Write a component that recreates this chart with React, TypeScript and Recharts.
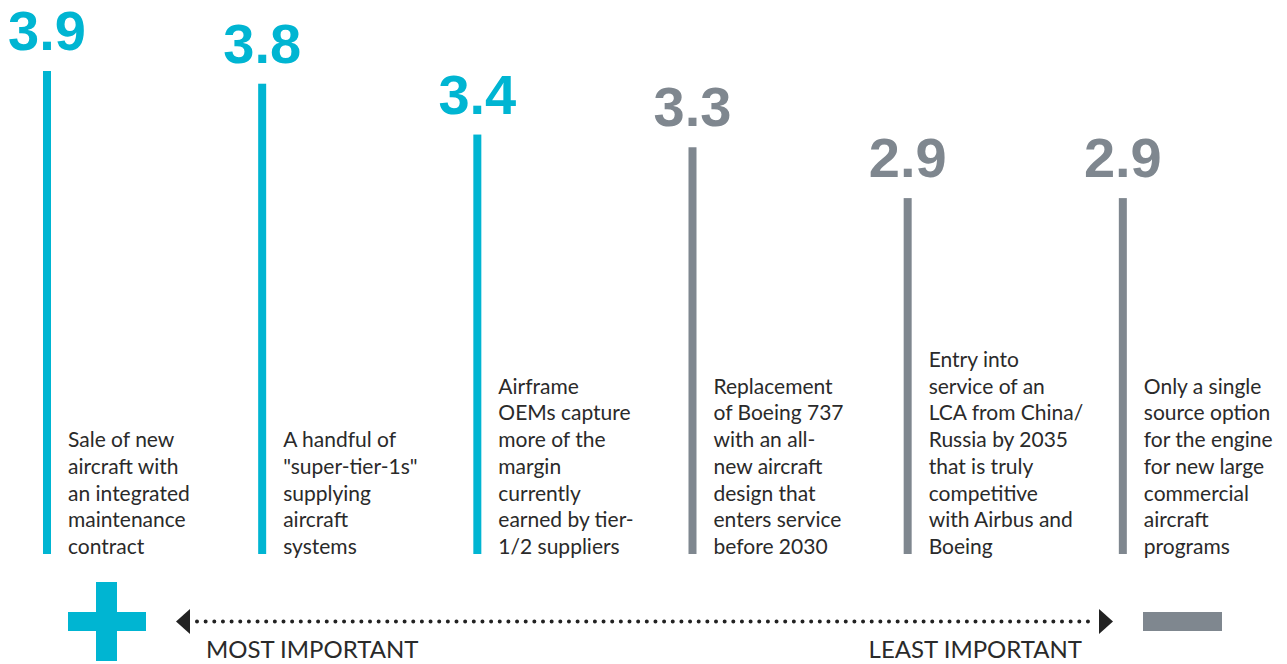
import React from "react";
import { BarChart, Bar, XAxis, YAxis } from "recharts";

const descriptions: string[][] = [
  ["Sale of new", "aircraft with", "an integrated", "maintenance", "contract"],
  ["A handful of", "\"super-tier-1s\"", "supplying", "aircraft", "systems"],
  ["Airframe", "OEMs capture", "more of the", "margin", "currently", "earned by tier-", "1/2 suppliers"],
  ["Replacement", "of Boeing 737", "with an all-", "new aircraft", "design that", "enters service", "before 2030"],
  ["Entry into", "service of an", "LCA from China/", "Russia by 2035", "that is truly", "competitive", "with Airbus and", "Boeing"],
  ["Only a single", "source option", "for the engine", "for new large", "commercial", "aircraft", "programs"],
];
const scores = [3.9, 3.8, 3.4, 3.3, 2.9, 2.9];
const tiers = ["high", "high", "high", "low", "low", "low"];
const scaleLabels = ["MOST IMPORTANT", "LEAST IMPORTANT"];

const CYAN = "#00B5D2";
const GREY = "#7F878F";
const TEXT = "#2a2a2a";

const data = scores.map((s, i) => ({
  name: descriptions[i].join(" "),
  score: s,
  tier: tiers[i],
  lines: descriptions[i],
}));

const BarShape = (props: any) => {
  const { x, y, width, height, payload } = props;
  const color = payload.tier === "high" ? CYAN : GREY;
  const cx = x + width / 2;
  const bottom = y + height;
  const lines: string[] = payload.lines;
  const lh = 26.75;
  return (
    <g>
      <rect x={x} y={y} width={width} height={height} fill={color} />
      <text
        x={cx}
        y={y - 21}
        textAnchor="middle"
        fill={color}
        fontFamily="'Liberation Sans', Arial, sans-serif"
        fontWeight={700}
        fontSize={56}
      >
        {payload.score.toFixed(1)}
      </text>
      {lines.map((l, k) => (
        <text
          key={k}
          x={cx + 21}
          y={bottom - (lines.length - 1 - k) * lh}
          fill={TEXT}
          fontFamily="Lato, sans-serif"
          fontSize={21}
        >
          {l}
        </text>
      ))}
    </g>
  );
};

export default function App() {
  return (
    <div style={{ position: "absolute", left: 0, top: 0, width: 1287, height: 664, background: "#fff" }}>
      <BarChart
        width={1287}
        height={664}
        data={data}
        margin={{ top: 71, right: 57, bottom: 110, left: -61 }}
        barSize={8}
      >
        <XAxis dataKey="name" hide />
        <YAxis hide domain={[0.1, 3.9]} />
        <Bar dataKey="score" isAnimationActive={false} shape={<BarShape />} />
      </BarChart>
      <svg
        width={1287}
        height={664}
        style={{ position: "absolute", left: 0, top: 0, pointerEvents: "none" }}
      >
        <rect x={68} y={612} width={78} height={19} fill={CYAN} />
        <rect x={96} y={582} width={21} height={79} fill={CYAN} />
        <rect x={1143} y={612} width={79} height={19} fill={GREY} />
        <line
          x1={197}
          y1={621.5}
          x2={1096}
          y2={621.5}
          stroke="#222"
          strokeWidth={4}
          strokeLinecap="round"
          strokeDasharray="0 8.65"
        />
        <polygon points="176,621.5 190,609 190,634" fill="#222" />
        <polygon points="1113,621.5 1099,609 1099,634" fill="#222" />
        <text x={206} y={658} fill={TEXT} fontFamily="Lato, sans-serif" fontSize={24}>
          {scaleLabels[0]}
        </text>
        <text x={1082} y={658} textAnchor="end" fill={TEXT} fontFamily="Lato, sans-serif" fontSize={24}>
          {scaleLabels[1]}
        </text>
      </svg>
    </div>
  );
}
